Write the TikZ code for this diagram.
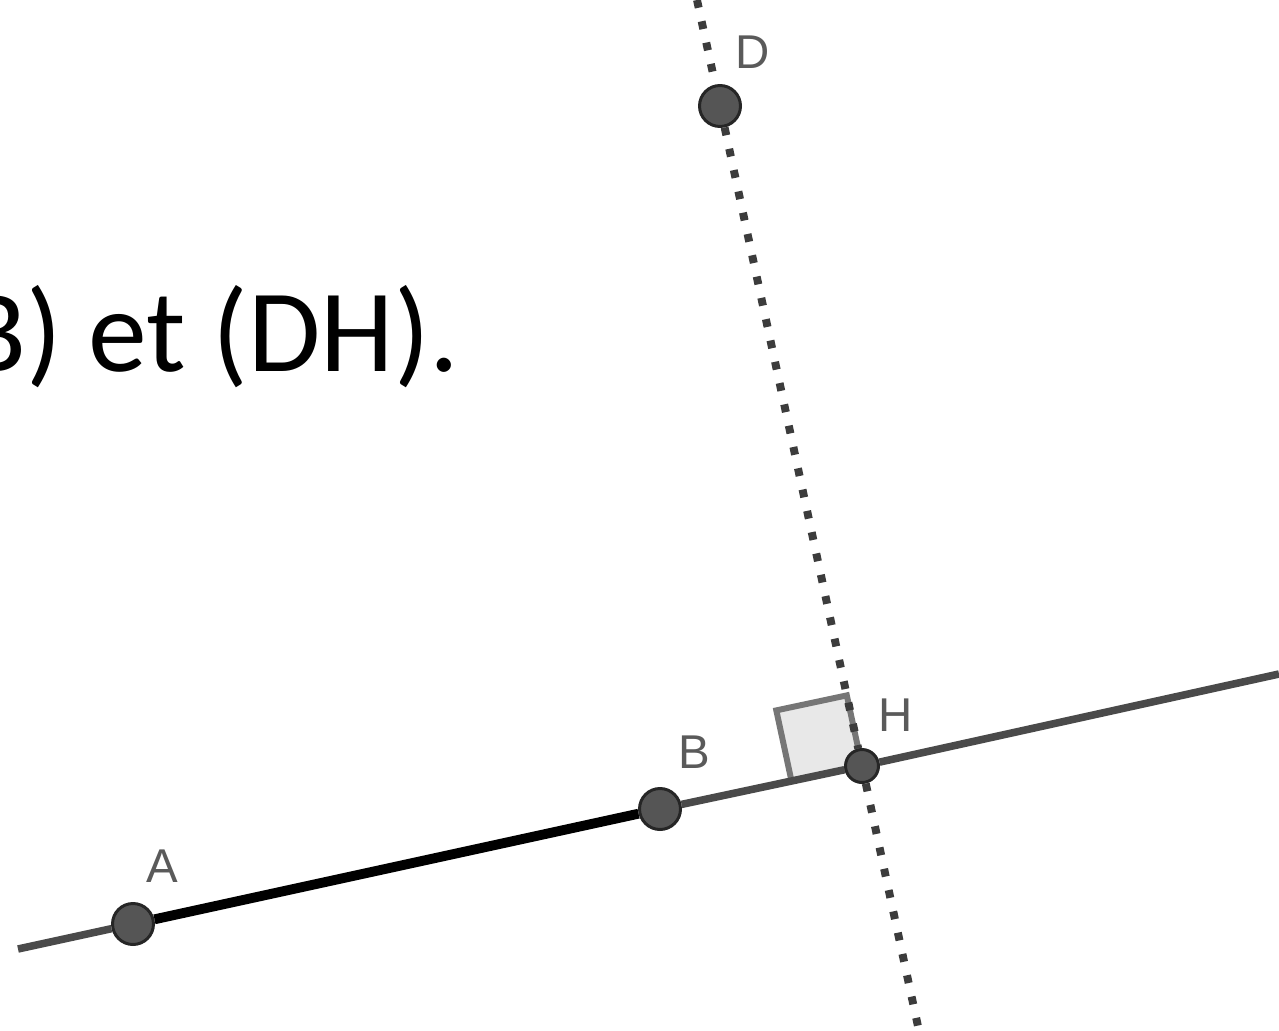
\documentclass[tikz,border=0pt]{standalone}
\usepackage{fontspec}
\setmainfont{Carlito}
\newfontfamily\geofont{Liberation Sans}
\usetikzlibrary{calc,backgrounds}
\definecolor{ptfill}{HTML}{555555}
\definecolor{linegray}{HTML}{4A4A4A}
\definecolor{dotgray}{HTML}{3C3C3C}
\definecolor{lblgray}{HTML}{5A5A5A}
\definecolor{sqfill}{HTML}{E8E8E8}
\definecolor{sqdraw}{HTML}{767676}

\begin{document}
\begin{tikzpicture}[x=0.02cm,y=-0.02cm]
  \tikzstyle{pt}=[circle,draw=black!85,line width=1.7pt,fill=ptfill,inner sep=0pt,minimum size=0.82cm]
  \tikzstyle{lbl}=[text=lblgray,font=\geofont\fontsize{27}{30}\selectfont,inner sep=0pt]
  \tikzstyle{droite}=[linegray,line width=4.3pt]
  \tikzstyle{segment}=[black,line width=5.6pt]
  \tikzstyle{pointille}=[dotgray,line width=4.5pt,dash pattern=on 4.5pt off 7.9pt]
  \useasboundingbox (0,0) rectangle (1279,1031);
  % texte
  \node[font=\fontsize{67}{76}\selectfont,anchor=base east,inner sep=0pt] (titre) at (460,371) {B) et (DH).};
  % points
  \node[pt] (A) at (133,924) {};
  \node[pt] (B) at (660,809) {};
  \node[pt,minimum size=0.66cm] (H) at (862,766) {};
  \node[pt] (D) at (720,106) {};
  \node[lbl] (lA) at (162,866) {A};
  \node[lbl] (lB) at (694,752) {B};
  \node[lbl] (lH) at (896,715) {H};
  \node[lbl] (lD) at (753,52) {D};
  % bouts des droites
  \coordinate (finG) at (18,949);
  \coordinate (finD) at (1279,674);
  \coordinate (haut) at (697,0);
  \coordinate (bas) at (919,1031);
  % droite (AB) et segment [AB]
  \draw[droite] (finG) -- (A);
  \draw[segment] (A) -- (B);
  \draw[droite] (B) -- (H);
  \draw[droite] (H) -- (finD);
  % perpendiculaire (DH)
  \draw[pointille] (haut) -- (D);
  \draw[pointille] (D) -- (H);
  \draw[pointille] (H) -- (bas);
  % angle droit
  \begin{scope}[on background layer]
    \coordinate (c1) at ($(H.center)!0.349!(B.center)$);
    \coordinate (c2) at ($(H.center)!0.107!(D.center)$);
    \draw[sqdraw,fill=sqfill,line width=3.4pt] (H.center) -- (c1) -- ($(c1)+(c2)-(H.center)$) -- (c2) -- cycle;
  \end{scope}
\end{tikzpicture}
\end{document}
